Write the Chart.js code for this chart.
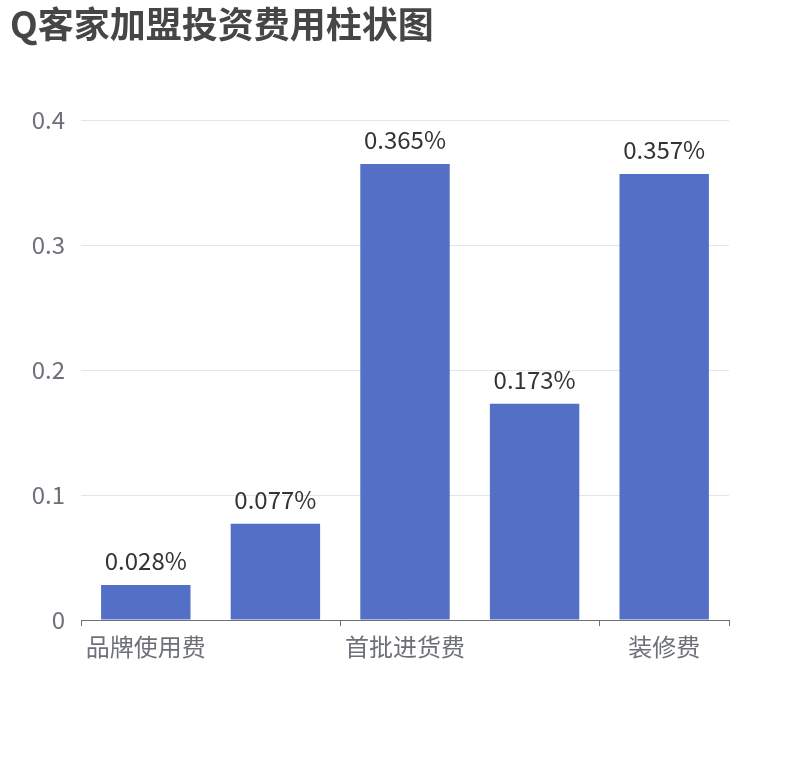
<!DOCTYPE html>
<html>
<head>
<meta charset="utf-8">
<script src="https://cdn.jsdelivr.net/npm/chart.js@4/dist/chart.umd.min.js"></script>
<style>
html,body{margin:0;padding:0;background:#fff;}
#wrap{width:810px;height:760px;}
</style>
</head>
<body>
<div id="wrap"><canvas id="c" width="810" height="760"></canvas></div>
<script>
const titleText = 'Q客家加盟投资费用柱状图';
const categories = ['品牌使用费', '加盟费', '首批进货费', '设备费', '装修费'];
const values = [0.028, 0.077, 0.365, 0.173, 0.357];
const yTicks = [0, 0.1, 0.2, 0.3, 0.4];

const FONT = "'Noto Sans CJK SC', 'Noto Sans', sans-serif";

const valueLabels = {
  id: 'valueLabels',
  afterDatasetsDraw(chart) {
    const ctx = chart.ctx;
    const meta = chart.getDatasetMeta(0);
    ctx.save();
    ctx.font = '24px ' + FONT;
    ctx.fillStyle = '#333333';
    ctx.textAlign = 'center';
    ctx.textBaseline = 'alphabetic';
    meta.data.forEach((bar, i) => {
      ctx.fillText(values[i] + '%', bar.x, bar.y - 15);
    });
    ctx.restore();
  }
};

new Chart(document.getElementById('c'), {
  type: 'bar',
  data: {
    labels: categories,
    datasets: [{
      data: values,
      backgroundColor: '#5470C6',
      borderWidth: 0,
      barPercentage: 0.69,
      categoryPercentage: 1.0
    }]
  },
  options: {
    responsive: false,
    devicePixelRatio: 1,
    animation: false,
    layout: { padding: { left: 10, right: 81, top: 0, bottom: 80 } },
    plugins: {
      legend: { display: false },
      tooltip: { enabled: false },
      title: {
        display: true,
        text: titleText,
        align: 'start',
        color: '#464646',
        font: { family: FONT, size: 36, weight: 'bold', lineHeight: 1.2 },
        padding: { top: 3, bottom: 74 }
      }
    },
    scales: {
      x: {
        offset: true,
        border: { display: true, color: '#6E7079', width: 1 },
        grid: {
          offset: true,
          drawOnChartArea: false,
          drawTicks: true,
          tickLength: 6,
          color: (c) => (c.index === undefined || c.index % 2 === 0) ? '#6E7079' : 'rgba(0,0,0,0)'
        },
        ticks: {
          autoSkip: false,
          maxRotation: 0,
          padding: 6,
          color: '#6E7079',
          font: { family: FONT, size: 24 },
          callback: function(v, i) { return i % 2 === 0 ? categories[i] : ''; }
        },
        afterFit: (s) => { s.height = 60; }
      },
      y: {
        min: 0,
        max: 0.4,
        border: { display: false },
        grid: { color: '#E0E6F1', drawTicks: false, lineWidth: 1 },
        afterBuildTicks: (s) => { s.ticks = yTicks.map(v => ({ value: v })); },
        ticks: {
          padding: 16,
          color: '#6E7079',
          font: { family: FONT, size: 24 },
          callback: (v) => String(v)
        },
        afterFit: (s) => { s.width = 71; }
      }
    }
  },
  plugins: [valueLabels]
});
</script>
</body>
</html>
